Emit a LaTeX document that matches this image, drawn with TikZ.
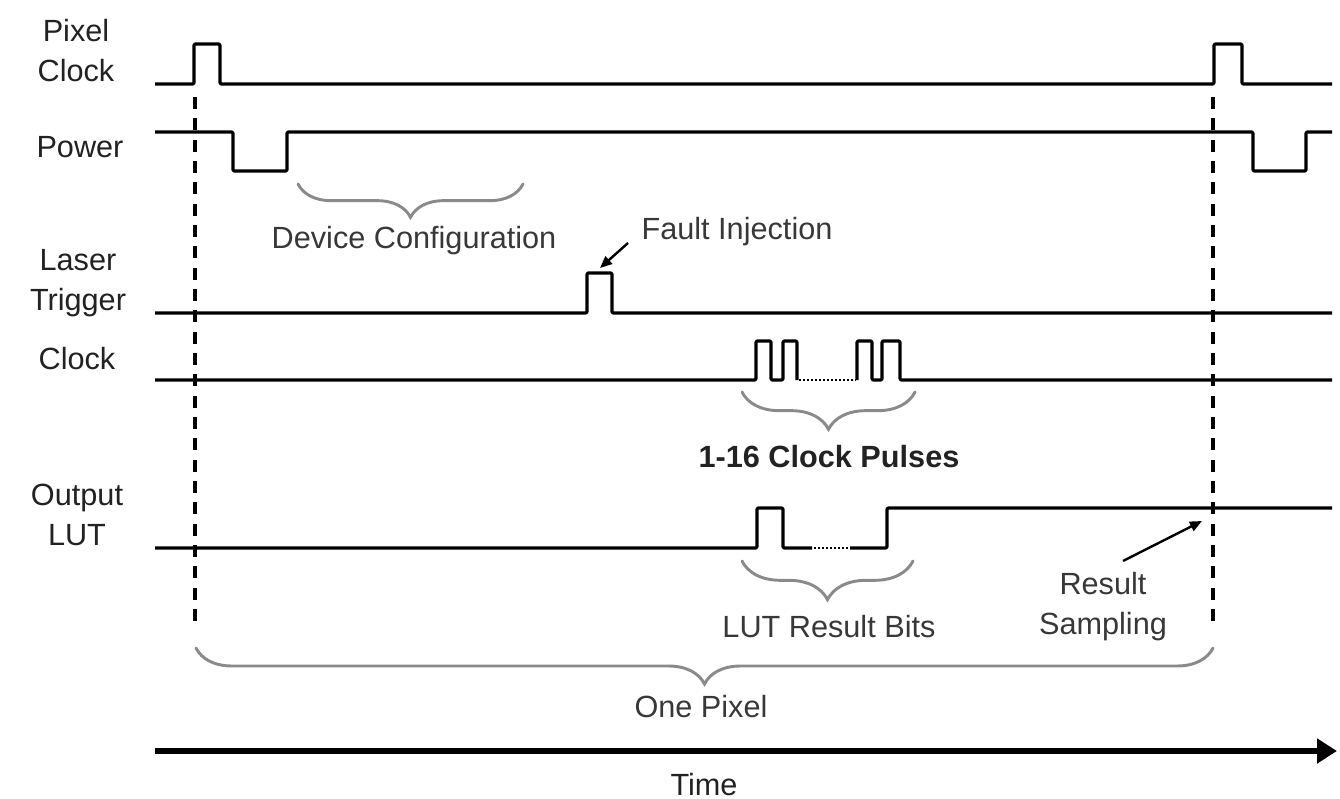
\documentclass[tikz,border=0pt]{standalone}
\usepackage{fontspec}
\setmainfont{Liberation Sans}
\usepackage{xcolor}
\usepackage{tikz}
\usetikzlibrary{arrows.meta,decorations.pathreplacing}
\definecolor{TDInk}{HTML}{222222}
\definecolor{TDBrace}{HTML}{8A8A8A}

\begin{document}
\begin{tikzpicture}[x=0.75pt,y=-0.75pt,
  wave/.style={line width=2.3pt,line join=round,rounded corners=0.8pt},
  dots/.style={line width=2pt,dash pattern=on 1.6pt off 1.4pt},
  guide/.style={line width=2.3pt,dash pattern=on 9pt off 7pt},
  sname/.style={font=\fontsize{23}{30}\selectfont,text=TDInk,align=center,inner sep=0pt,anchor=base},
  note/.style={font=\fontsize{23}{30}\selectfont,text=TDInk!90,align=center,inner sep=0pt,anchor=base},
  curly/.style={draw=TDBrace,line width=2.2pt,line cap=round,decorate,decoration={brace,mirror,amplitude=#1}},
  pointer/.style={line width=1.8pt,-{Triangle[length=9pt,width=7.5pt]}}]
\useasboundingbox (0,0) rectangle (1340,799);

% signal names (base = last line)
\node[sname] (pclk) at (76,82) {Pixel\\Clock};
\node[sname] (pwr) at (80,157) {Power};
\node[sname] (laser) at (78,310) {Laser\\Trigger};
\node[sname] (clk) at (77,369) {Clock};
\node[sname] (olut) at (77,545) {Output\\LUT};

% waveforms
\draw[wave] (155,84) -- (194,84) -- (194,44) -- (220,44) -- (220,84) -- (1214,84) -- (1214,44) -- (1242,44) -- (1242,84) -- (1332,84);
\draw[wave] (155,132) -- (233,132) -- (233,171) -- (287,171) -- (287,132) -- (1253,132) -- (1253,171) -- (1306,171) -- (1306,132) -- (1332,132);
\draw[wave] (155,313) -- (587,313) -- (587,273) -- (612,273) -- (612,313) -- (1332,313);
\draw[wave] (155,380) -- (756,380) -- (756,341) -- (771,341) -- (771,380) -- (783,380) -- (783,341) -- (797,341) -- (797,380);
\draw[dots] (799,380) -- (856,380);
\draw[wave] (857,380) -- (857,341) -- (872,341) -- (872,380) -- (882,380) -- (882,341) -- (900,341) -- (900,380) -- (1332,380);
\draw[wave] (155,548) -- (757,548) -- (757,508) -- (783,508) -- (783,548) -- (812,548);
\draw[dots] (814,548) -- (849,548);
\draw[wave] (850,548) -- (887,548) -- (887,508) -- (1332,508);

% pixel boundaries
\draw[guide] (195,97) -- (195,622);
\draw[guide] (1213,97) -- (1213,622);

% braces and their texts
\draw[curly=25pt] (298,184) -- (523,184);
\node[note] (devcfg) at (414,248) {Device Configuration};
\draw[curly=28pt] (742,392) -- (915,392);
\node[note,font=\fontsize{23}{30}\selectfont\bfseries,text=TDInk] (pulses) at (829,467) {1-16 Clock Pulses};
\draw[curly=29pt] (742,561) -- (913,561);
\node[note] (bits) at (829,637) {LUT Result Bits};
\draw[curly=27pt] (196,648) -- (1213,648);
\node[note] (pixel) at (701,717) {One Pixel};

% annotations
\node[note] (fault) at (737,239) {Fault Injection};
\coordinate (faulttail) at (628,243);
\coordinate (faulthit) at (600,268);
\draw[pointer] (faulttail) -- (faulthit);
\node[note] (resamp) at (1103,634) {Result\\Sampling};
\coordinate (samptail) at (1123,561);
\coordinate (samphit) at (1202,521);
\draw[pointer] (samptail) -- (samphit);

% time axis
\coordinate (tstart) at (155,751);
\coordinate (tend) at (1337,751);
\draw[line width=4.5pt,-{Triangle[length=15pt,width=18pt]}] (tstart) -- (tend);
\node[note,text=TDInk] (time) at (704,795) {Time};
\end{tikzpicture}
\end{document}
